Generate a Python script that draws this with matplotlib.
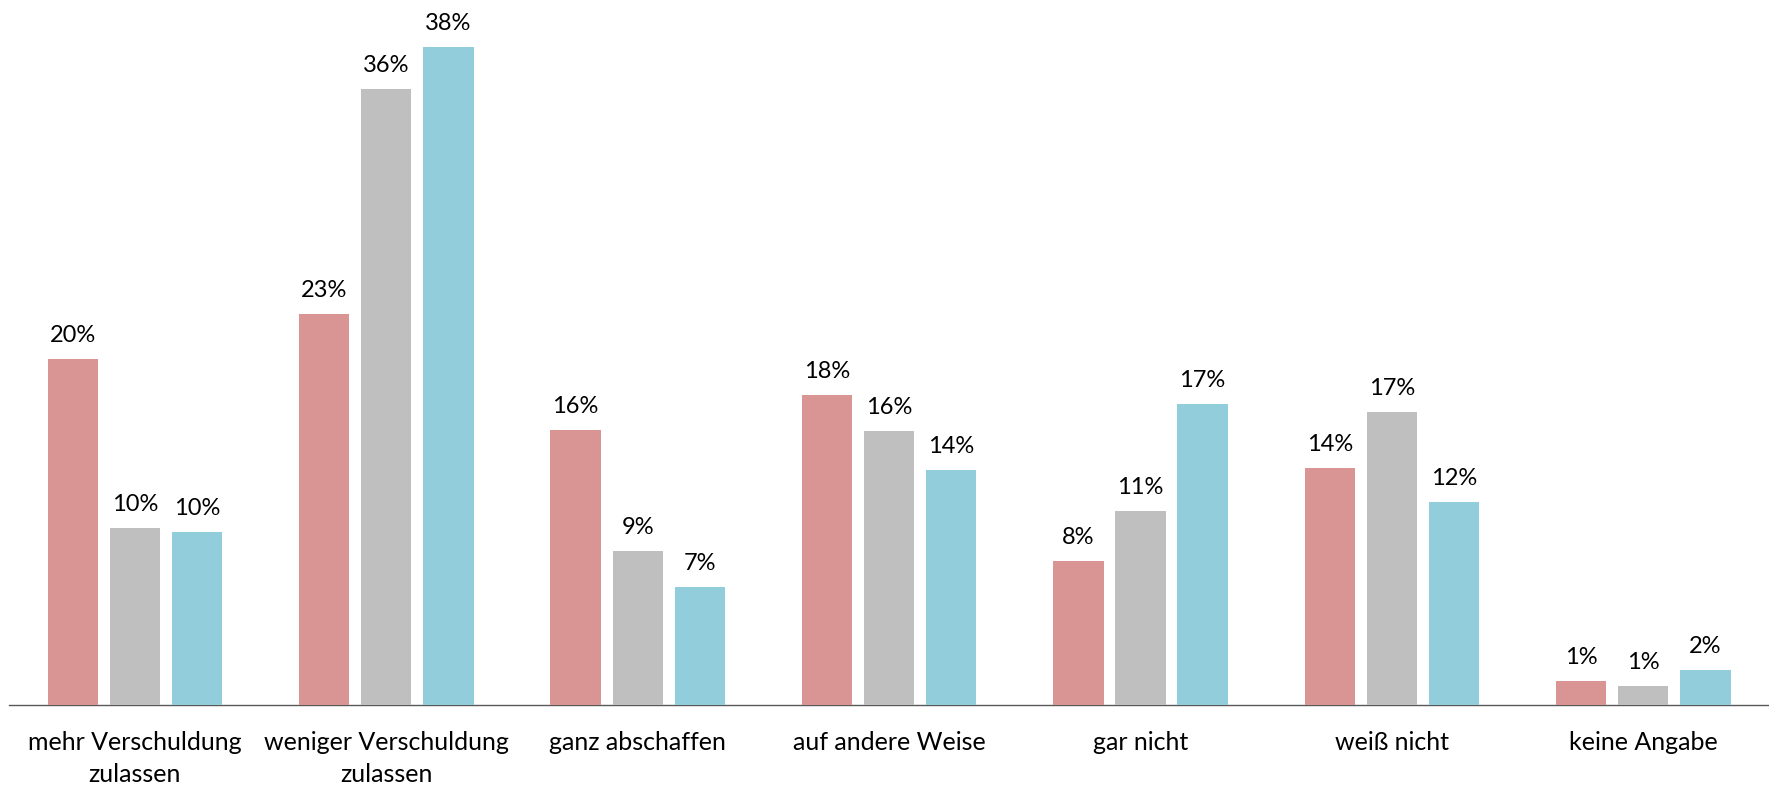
import matplotlib
matplotlib.use("Agg")
import matplotlib.pyplot as plt
import numpy as np

plt.rcParams["font.family"] = ["Lato", "DejaVu Sans"]

CATEGORIES = [
    "mehr Verschuldung\nzulassen",
    "weniger Verschuldung\nzulassen",
    "ganz abschaffen",
    "auf andere Weise",
    "gar nicht",
    "weiß nicht",
    "keine Angabe",
]
SERIES_A = [20.0, 22.6, 15.9, 17.9, 8.3, 13.7, 1.4]
SERIES_B = [10.2, 35.6, 8.9, 15.8, 11.2, 16.9, 1.1]
SERIES_C = [10.0, 38.0, 6.8, 13.6, 17.4, 11.7, 2.0]
COLORS = ["#D99594", "#BFBFBF", "#92CDDC"]

fig = plt.figure(figsize=(17.69, 7.85), dpi=100)
ax = fig.add_axes([0.0052, 0.102, 0.9948, 0.882])

x = np.arange(len(CATEGORIES))
step = 0.247
width = 0.2
for i, (vals, color) in enumerate(zip([SERIES_A, SERIES_B, SERIES_C], COLORS)):
    pos = x + (i - 1) * step
    bars = ax.bar(pos, vals, width, color=color, zorder=3)
    for bar, v in zip(bars, vals):
        ax.text(bar.get_x() + bar.get_width() / 2, v + 0.75, f"{v:.0f}%",
                ha="center", va="bottom", fontsize=17, color="#000000")

ax.set_xlim(-0.5, len(CATEGORIES) - 0.5)
ax.set_ylim(0, 40)
ax.set_xticks(x)
ax.set_xticklabels(CATEGORIES, fontsize=18, linespacing=1.45)
ax.tick_params(axis="x", length=0, pad=19)
ax.set_yticks([])
for s in ("top", "right", "left"):
    ax.spines[s].set_visible(False)
ax.spines["bottom"].set_color("#595959")
ax.spines["bottom"].set_linewidth(1.0)

fig.savefig("out.png", dpi=100)
